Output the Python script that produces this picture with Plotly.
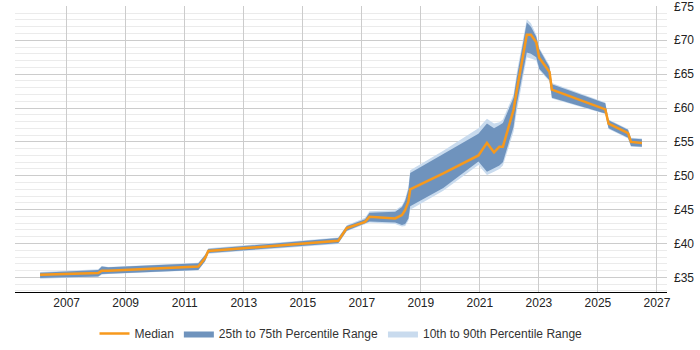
import plotly.graph_objects as go

years = [2006.1, 2008.07, 2008.19, 2008.41, 2011.46, 2011.69, 2011.8, 2016.2, 2016.49,
         2017.11, 2017.26, 2018.13, 2018.36, 2018.47, 2018.58, 2018.64, 2019.76, 2020.95,
         2021.24, 2021.48, 2021.66, 2021.78, 2022.14, 2022.25, 2022.59, 2022.73, 2022.91,
         2023.01, 2023.36, 2023.44, 2025.25, 2025.36, 2026.02, 2026.12, 2026.49]
p10 = [34.8, 35.1, 35.4, 35.5, 36.05, 37.3, 38.5, 39.95, 41.8,
       42.8, 43.1, 42.9, 42.5, 42.6, 43.4, 45.0, 47.8, 51.6,
       50.1, 50.6, 51.0, 51.5, 56.5, 59.5, 67.5, 67.3, 67.0,
       65.6, 63.9, 61.4, 59.1, 56.9, 55.5, 54.3, 54.2]
p25 = [34.9, 35.15, 35.5, 35.55, 36.1, 37.4, 38.6, 40.05, 41.9,
       42.9, 43.25, 43.1, 42.75, 42.9, 43.7, 45.5, 48.2, 52.1,
       50.6, 51.1, 51.5, 52.0, 57.2, 60.5, 68.2, 68.0, 67.5,
       65.8, 64.1, 61.5, 59.2, 57.0, 55.6, 54.4, 54.3]
median = [35.4, 35.65, 36.0, 36.0, 36.6, 37.85, 38.9, 40.4, 42.3,
          43.2, 43.95, 43.7, 44.2, 44.95, 46.2, 48.0, 50.35, 53.0,
          54.85, 53.45, 54.3, 54.3, 59.7, 62.6, 70.8, 70.8, 69.7,
          67.4, 65.3, 62.7, 59.8, 57.7, 56.3, 55.0, 54.85]
p75 = [35.7, 36.1, 36.6, 36.5, 37.1, 38.3, 39.2, 40.8, 42.6,
       43.6, 44.55, 44.7, 45.4, 46.3, 48.0, 50.4, 53.2, 56.2,
       57.7, 57.0, 57.45, 57.8, 61.5, 64.5, 72.6, 72.0, 70.5,
       68.7, 66.0, 63.5, 60.7, 58.2, 56.8, 55.5, 55.4]
p90 = [35.8, 36.2, 36.7, 36.55, 37.15, 38.4, 39.3, 40.9, 42.7,
       43.8, 44.75, 44.9, 45.6, 46.6, 48.4, 50.8, 53.7, 57.0,
       58.4, 57.7, 57.9, 58.3, 62.0, 65.2, 73.1, 72.5, 70.8,
       68.9, 66.3, 63.7, 60.8, 58.3, 56.9, 55.6, 55.5]

x_ticks = list(range(2007, 2028, 2))
x_labels = [str(t) for t in x_ticks]
y_ticks = list(range(35, 76, 5))
y_labels = ["£" + str(t) for t in y_ticks]

dark = "#6f93bd"
light = "#c9dbee"
orange = "#f7991c"

fig = go.Figure()
fig.add_trace(go.Scatter(x=years, y=p10, mode="lines", line=dict(width=0, color=light),
                         showlegend=False, hoverinfo="skip"))
fig.add_trace(go.Scatter(x=years, y=p90, mode="lines", line=dict(width=0, color=light),
                         fill="tonexty", fillcolor=light, name="10th to 90th Percentile Range",
                         legendrank=3))
fig.add_trace(go.Scatter(x=years, y=p25, mode="lines", line=dict(width=0, color=dark),
                         showlegend=False, hoverinfo="skip"))
fig.add_trace(go.Scatter(x=years, y=p75, mode="lines", line=dict(width=0, color=dark),
                         fill="tonexty", fillcolor=dark, name="25th to 75th Percentile Range",
                         legendrank=2))
fig.add_trace(go.Scatter(x=years, y=median, mode="lines", line=dict(width=2.5, color=orange),
                         name="Median", legendrank=1))

fig.update_layout(
    width=700, height=350,
    margin=dict(l=15, r=33, t=5.7, b=57.7, autoexpand=False),
    paper_bgcolor="white", plot_bgcolor="white",
    font=dict(family="Liberation Sans, Arial, sans-serif", size=12, color="#222"),
    showlegend=True,
    legend=dict(orientation="h", x=0.5, xanchor="center", y=-0.1455, yanchor="middle",
                font=dict(size=12, color="#333"), traceorder="normal"),
    xaxis=dict(range=[2005.25, 2027.34], tickvals=x_ticks, ticktext=x_labels,
               showgrid=True, gridcolor="#cccccc", gridwidth=1, automargin=False,
               showline=True, linecolor="#000000", linewidth=1,
               zeroline=False, ticks="", tickfont=dict(size=12, color="#222")),
    yaxis=dict(range=[32.85, 75.05], side="right", tickvals=y_ticks, ticktext=y_labels,
               showgrid=True, gridcolor="#cccccc", gridwidth=1, automargin=False,
               minor=dict(dtick=1, tick0=35, showgrid=True, gridcolor="#ebebeb", gridwidth=1),
               showline=False, zeroline=False, ticks="", ticklabelstandoff=6,
               ticklabeloverflow="allow", tickfont=dict(size=12, color="#222")),
)

fig.write_html("out.html")
